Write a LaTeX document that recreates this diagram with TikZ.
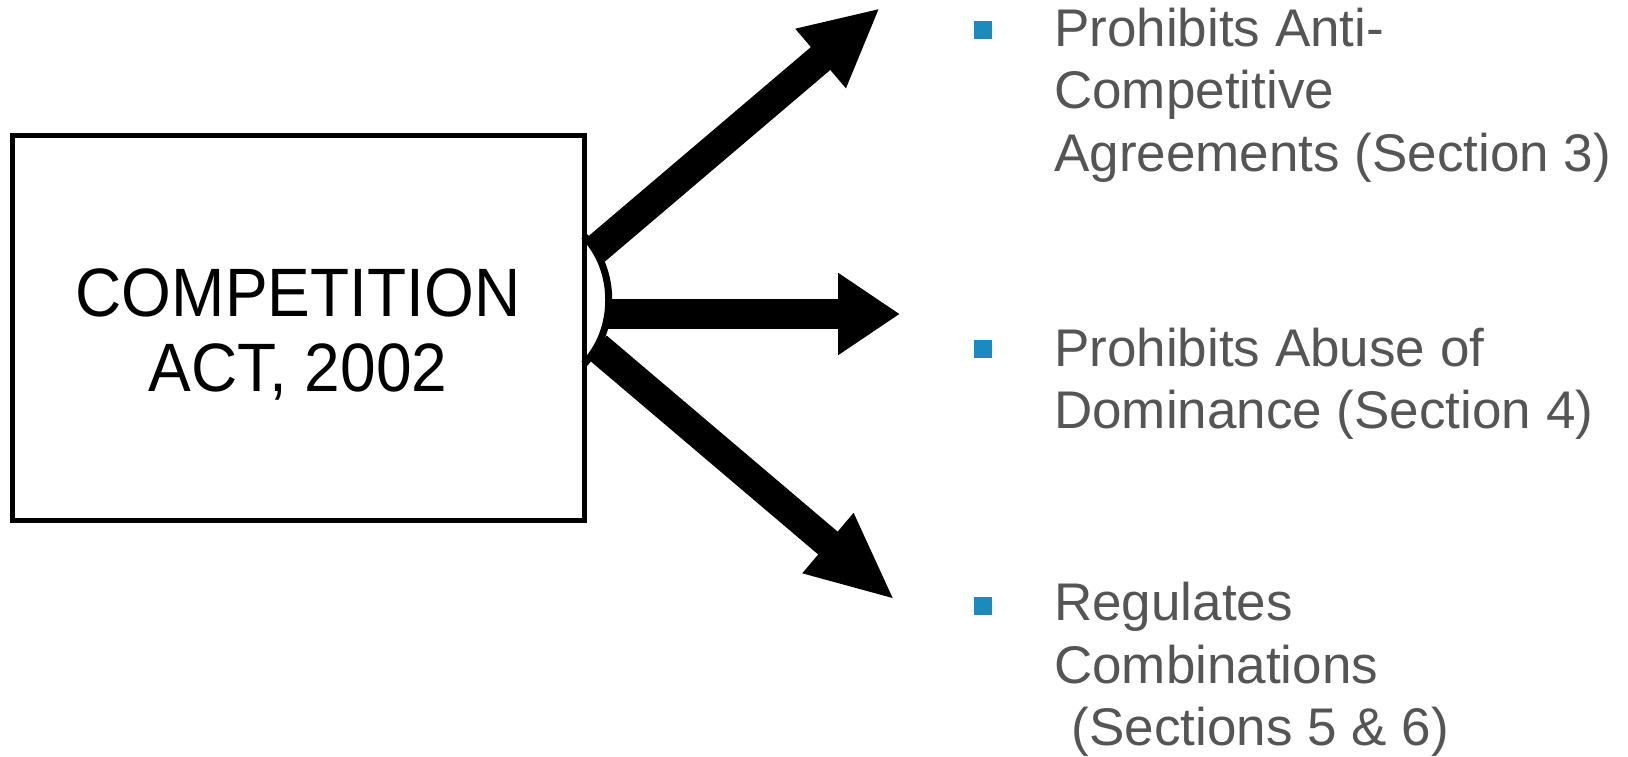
\documentclass[tikz,border=0pt]{standalone}
\usepackage{fontspec}
\setmainfont{Liberation Sans}
\usetikzlibrary{arrows.meta}
\definecolor{bulletblue}{RGB}{26,139,190}
\definecolor{txtgray}{RGB}{85,85,85}
\begin{document}
\begin{tikzpicture}[x=1pt,y=-1pt,
  actbox/.style={draw=black, line width=5pt, fill=white, minimum width=571.6pt, minimum height=384.2pt, inner sep=0pt},
  acttext/.style={font=\fontsize{64}{70}\selectfont, align=center, inner sep=0pt, text=black, anchor=base, yscale=1.07, transform shape},
  item/.style={font=\fontsize{53}{62.3}\selectfont, align=left, inner sep=0pt, text=txtgray, anchor=base west},
  bulletsq/.style={fill=bulletblue, minimum size=18pt, inner sep=0pt},
  fatarrow/.style={line width=30pt, draw=black}
]
\useasboundingbox (0,0) rectangle (1628,756);

\node[actbox] (act) at (298.5,327.9) {};
\node[acttext] (acttext) at (298,391) {COMPETITION\\ACT, 2002};

% arrow start and end points
\coordinate (s1) at (593,252);
\coordinate (t1) at (880,8);
\coordinate (s2) at (592,314);
\coordinate (t2) at (900,314);
\coordinate (s3) at (597,347);
\coordinate (t3) at (895,600);

\draw[fatarrow, -{Triangle[length=78pt,width=72pt]}] (s1) -- (t1);
\draw[fatarrow, -{Triangle[length=62pt,width=78pt]}] (s2) -- (t2);
\draw[fatarrow, -{Triangle[length=88pt,width=72pt]}] (s3) -- (t3);

% curved joint
\coordinate (arcA) at (584,236);
\coordinate (arcB) at (584,364);
\path[fill=white] (587,236) .. controls (617,270) and (617,330) .. (587,364) -- cycle;
\draw[line width=7pt] (arcA) .. controls (617,270) and (617,330) .. (arcB);

% bullets
\node[bulletsq] (b1) at (983,30) {};
\node[bulletsq] (b2) at (983,349) {};
\node[bulletsq] (b3) at (983,605.5) {};

\node[item] (i1) at (1054,171) {Prohibits Anti-\\Competitive\\Agreements (Section 3)};
\node[item] (i2) at (1054,428.5) {Prohibits Abuse of\\Dominance (Section 4)};
\node[item] (i3) at (1054,745.5) {Regulates\\Combinations\\\hspace*{17.5pt}(Sections 5 \& 6)};
\end{tikzpicture}
\end{document}
